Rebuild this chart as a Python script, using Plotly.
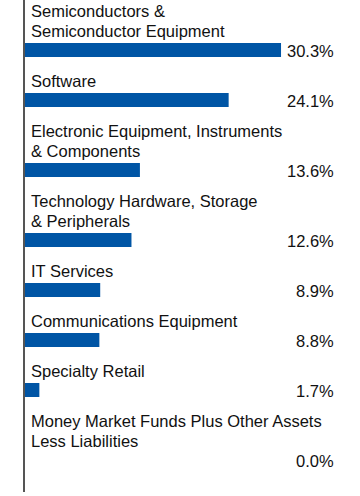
import plotly.graph_objects as go

categories = [
    "Semiconductors &<br>Semiconductor Equipment",
    "Software",
    "Electronic Equipment, Instruments<br>& Components",
    "Technology Hardware, Storage<br>& Peripherals",
    "IT Services",
    "Communications Equipment",
    "Specialty Retail",
    "Money Market Funds Plus Other Assets<br>Less Liabilities",
]
values = [30.3, 24.1, 13.6, 12.6, 8.9, 8.8, 1.7, 0.0]
value_labels = ["30.3%", "24.1%", "13.6%", "12.6%", "8.9%", "8.8%", "1.7%", "0.0%"]

W, H = 360, 496
ML, MR, MT, MB = 25, 0, 0, 4
plot_h = H - MT - MB
plot_w = W - ML - MR
px_per_unit = 8.45
LINE = 20
FONT = dict(family="Arial, Liberation Sans, sans-serif", size=16.5, color="#111111")

# layout positions (pixels from top) derived from number of label lines
ys = []
label_annots = []
cursor = 0
for cat in categories:
    lines = cat.split("<br>")
    for k, ln in enumerate(lines):
        label_annots.append(dict(
            x=0, xref="paper", xshift=4, xanchor="left",
            y=cursor + k * LINE + 11, yref="y", yanchor="middle",
            text=ln, showarrow=False, font=FONT,
        ))
    ys.append(cursor + len(lines) * LINE + 10)
    cursor += len(lines) * LINE + 30

fig = go.Figure(go.Bar(
    x=values, y=ys, orientation="h", width=14,
    marker=dict(color="#0055A5", line=dict(width=0)),
    hoverinfo="skip",
))

value_annots = []
for y, t in zip(ys, value_labels):
    value_annots.append(dict(
        x=(336 - ML) / plot_w, xref="paper", xanchor="right",
        y=y + 1, yref="y", yanchor="middle",
        text=t, showarrow=False, font=FONT,
    ))

fig.update_layout(
    width=W, height=H,
    margin=dict(l=ML, r=MR, t=MT, b=MB, pad=0),
    paper_bgcolor="white", plot_bgcolor="white",
    showlegend=False,
    xaxis=dict(range=[0, plot_w / px_per_unit], visible=False, fixedrange=True),
    yaxis=dict(range=[plot_h, 0], showline=True, linecolor="#555555", linewidth=2,
               showgrid=False, zeroline=False, showticklabels=False, ticks="",
               fixedrange=True),
    annotations=label_annots + value_annots,
)

fig.write_html("out.html", config={"displayModeBar": False})
